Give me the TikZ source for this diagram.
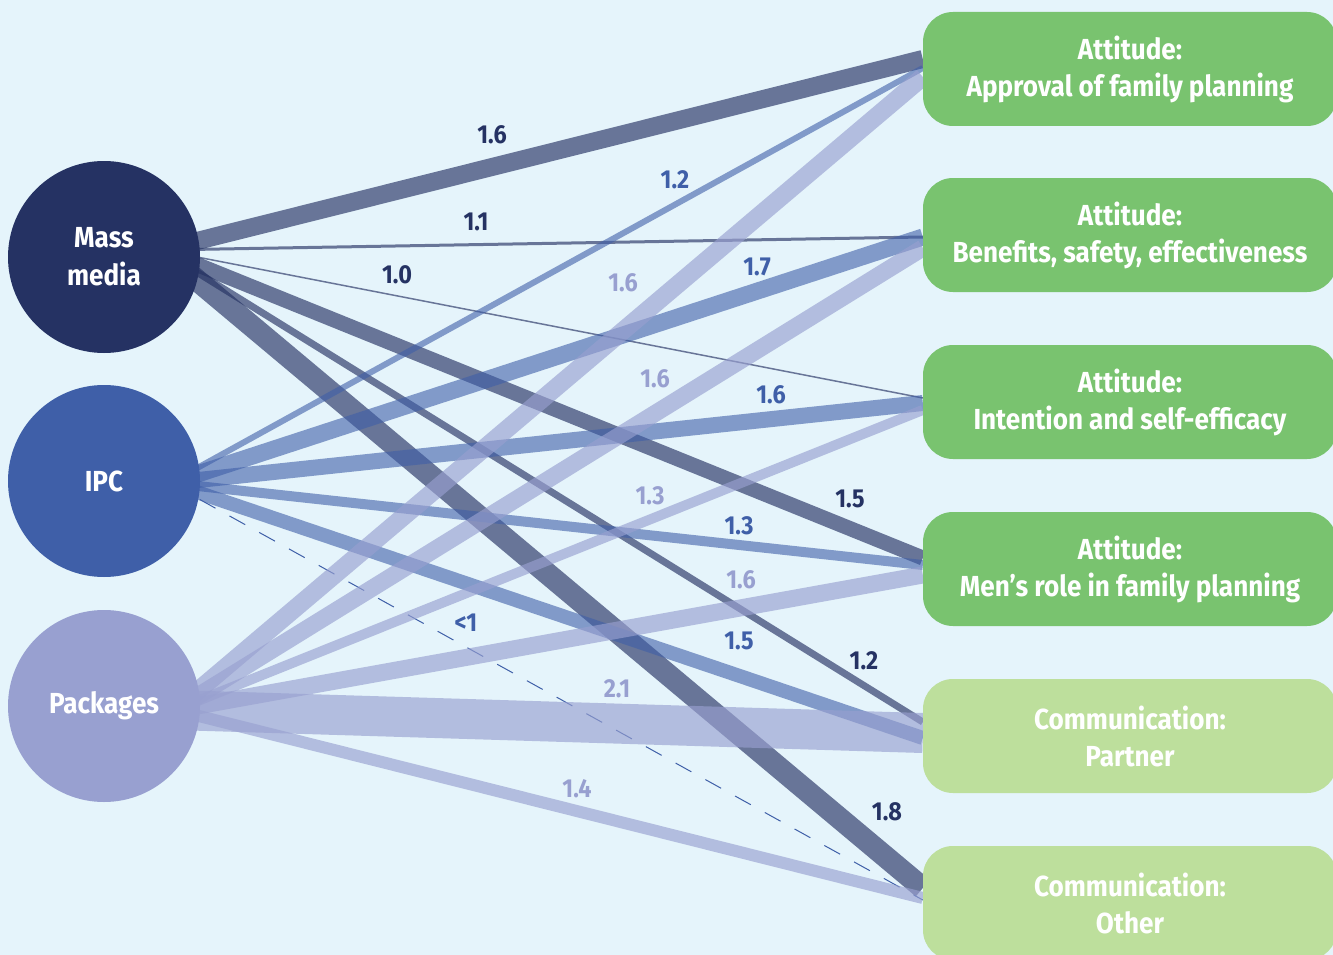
\documentclass[tikz,border=0pt]{standalone}
\usepackage{fontspec}
\setmainfont{Fira Sans}[FakeStretch=0.9]
\usetikzlibrary{backgrounds}

\definecolor{bgblue}{RGB}{229,244,251}
\definecolor{mmblue}{RGB}{37,50,99}
\definecolor{ipcblue}{RGB}{63,95,168}
\definecolor{pkgblue}{RGB}{152,160,208}
\definecolor{attgreen}{RGB}{121,195,111}
\definecolor{comgreen}{RGB}{189,223,156}

\begin{document}
\begin{tikzpicture}[x=1pt,y=-1pt,
	src/.style={circle, minimum size=192pt, inner sep=0pt, text=white,
		font=\bfseries\fontsize{29}{38}\selectfont, align=center},
	attbox/.style={rectangle, rounded corners=30pt, fill=attgreen, minimum width=414pt,
		minimum height=114pt, text=white, font=\bfseries\fontsize{29}{37}\selectfont, align=center},
	combox/.style={attbox, fill=comgreen},
	mmline/.style={draw=mmblue, opacity=0.65},
	ipcline/.style={draw=ipcblue, opacity=0.6},
	pkgline/.style={draw=pkgblue, opacity=0.65},
	lab/.style={font=\bfseries\fontsize{26}{26}\selectfont, inner sep=0pt}]
	\useasboundingbox (0,0) rectangle (1333,955);

	% sources
	\node[src, fill=mmblue] (mm) at (104,257) {Mass\\media};
	\node[src, fill=ipcblue] (ipc) at (104,481) {IPC};
	\node[src, fill=pkgblue] (pkg) at (104,706) {Packages};

	% outcomes
	\node[attbox] (att1) at (1130,69) {Attitude:\\Approval of family planning};
	\node[attbox] (att2) at (1130,235) {Attitude:\\Benefits, safety, effectiveness};
	\node[attbox] (att3) at (1130,402) {Attitude:\\Intention and self-efficacy};
	\node[attbox] (att4) at (1130,569) {Attitude:\\Men’s role in family planning};
	\node[combox] (com1) at (1130,736) {Communication:\\Partner};
	\node[combox] (com2) at (1130,903) {Communication:\\Other};

	\begin{scope}[on background layer]
		\fill[bgblue] (0,0) rectangle (1333,955);
		\coordinate (mmS) at ([shift={(57,-7)}]mm.center);
		\coordinate (ipcS) at ([shift={(66,2)}]ipc.center);
		\coordinate (pkgS) at ([shift={(71,4)}]pkg.center);

		% mass media
		\draw[mmline, line width=18pt] (mmS) -- ([shift={(0,-10)}]att1.west);
		\draw[mmline, line width=3pt] (mmS) -- ([shift={(0,2)}]att2.west);
		\draw[mmline, line width=1.5pt] (mmS) -- ([shift={(0,-4)}]att3.west);
		\draw[mmline, line width=15pt] (mmS) -- ([shift={(0,-11)}]att4.west);
		\draw[mmline, line width=7pt] (mmS) -- ([shift={(0,-14)}]com1.west);
		\draw[mmline, line width=22pt] (mmS) -- ([shift={(0,-15)}]com2.west);

		% IPC
		\draw[ipcline, line width=6pt] (ipcS) -- ([shift={(0,-1)}]att1.west);
		\draw[ipcline, line width=17pt] (ipcS) -- ([shift={(0,2)}]att2.west);
		\draw[ipcline, line width=16pt] (ipcS) -- ([shift={(0,1)}]att3.west);
		\draw[ipcline, line width=10pt] (ipcS) -- ([shift={(0,-4)}]att4.west);
		\draw[ipcline, line width=14pt] (ipcS) -- ([shift={(0,2)}]com1.west);
		\draw[draw=ipcblue, line width=1pt, dash pattern=on 18pt off 16pt] (ipcS) -- ([shift={(0,-3)}]com2.west);

		% packages
		\draw[pkgline, line width=18pt] (pkgS) -- ([shift={(0,8)}]att1.west);
		\draw[pkgline, line width=17pt] (pkgS) -- ([shift={(0,13)}]att2.west);
		\draw[pkgline, line width=10pt] (pkgS) -- ([shift={(0,8)}]att3.west);
		\draw[pkgline, line width=17pt] (pkgS) -- ([shift={(0,6)}]att4.west);
		\draw[pkgline, line width=40pt] (pkgS) -- ([shift={(0,-3)}]com1.west);
		\draw[pkgline, line width=12pt] (pkgS) -- ([shift={(0,-5)}]com2.west);
	\end{scope}

	% values
	\node[lab, text=mmblue] (mmL1) at (492,135) {1.6};
	\node[lab, text=mmblue] (mmL2) at (476,222) {1.1};
	\node[lab, text=mmblue] (mmL3) at (397,275) {1.0};
	\node[lab, text=mmblue] (mmL4) at (850,499) {1.5};
	\node[lab, text=mmblue] (mmL5) at (864,661) {1.2};
	\node[lab, text=mmblue] (mmL6) at (887,812) {1.8};

	\node[lab, text=ipcblue] (ipcL1) at (675,180) {1.2};
	\node[lab, text=ipcblue] (ipcL2) at (757,267) {1.7};
	\node[lab, text=ipcblue] (ipcL3) at (771,395) {1.6};
	\node[lab, text=ipcblue] (ipcL4) at (739,526) {1.3};
	\node[lab, text=ipcblue] (ipcL5) at (739,641) {1.5};
	\node[lab, text=ipcblue] (ipcL6) at (466,623) {<1};

	\node[lab, text=pkgblue] (pkgL1) at (623,283) {1.6};
	\node[lab, text=pkgblue] (pkgL2) at (655,379) {1.6};
	\node[lab, text=pkgblue] (pkgL3) at (650,496) {1.3};
	\node[lab, text=pkgblue] (pkgL4) at (741,580) {1.6};
	\node[lab, text=pkgblue] (pkgL5) at (617,689) {2.1};
	\node[lab, text=pkgblue] (pkgL6) at (577,789) {1.4};
\end{tikzpicture}
\end{document}
